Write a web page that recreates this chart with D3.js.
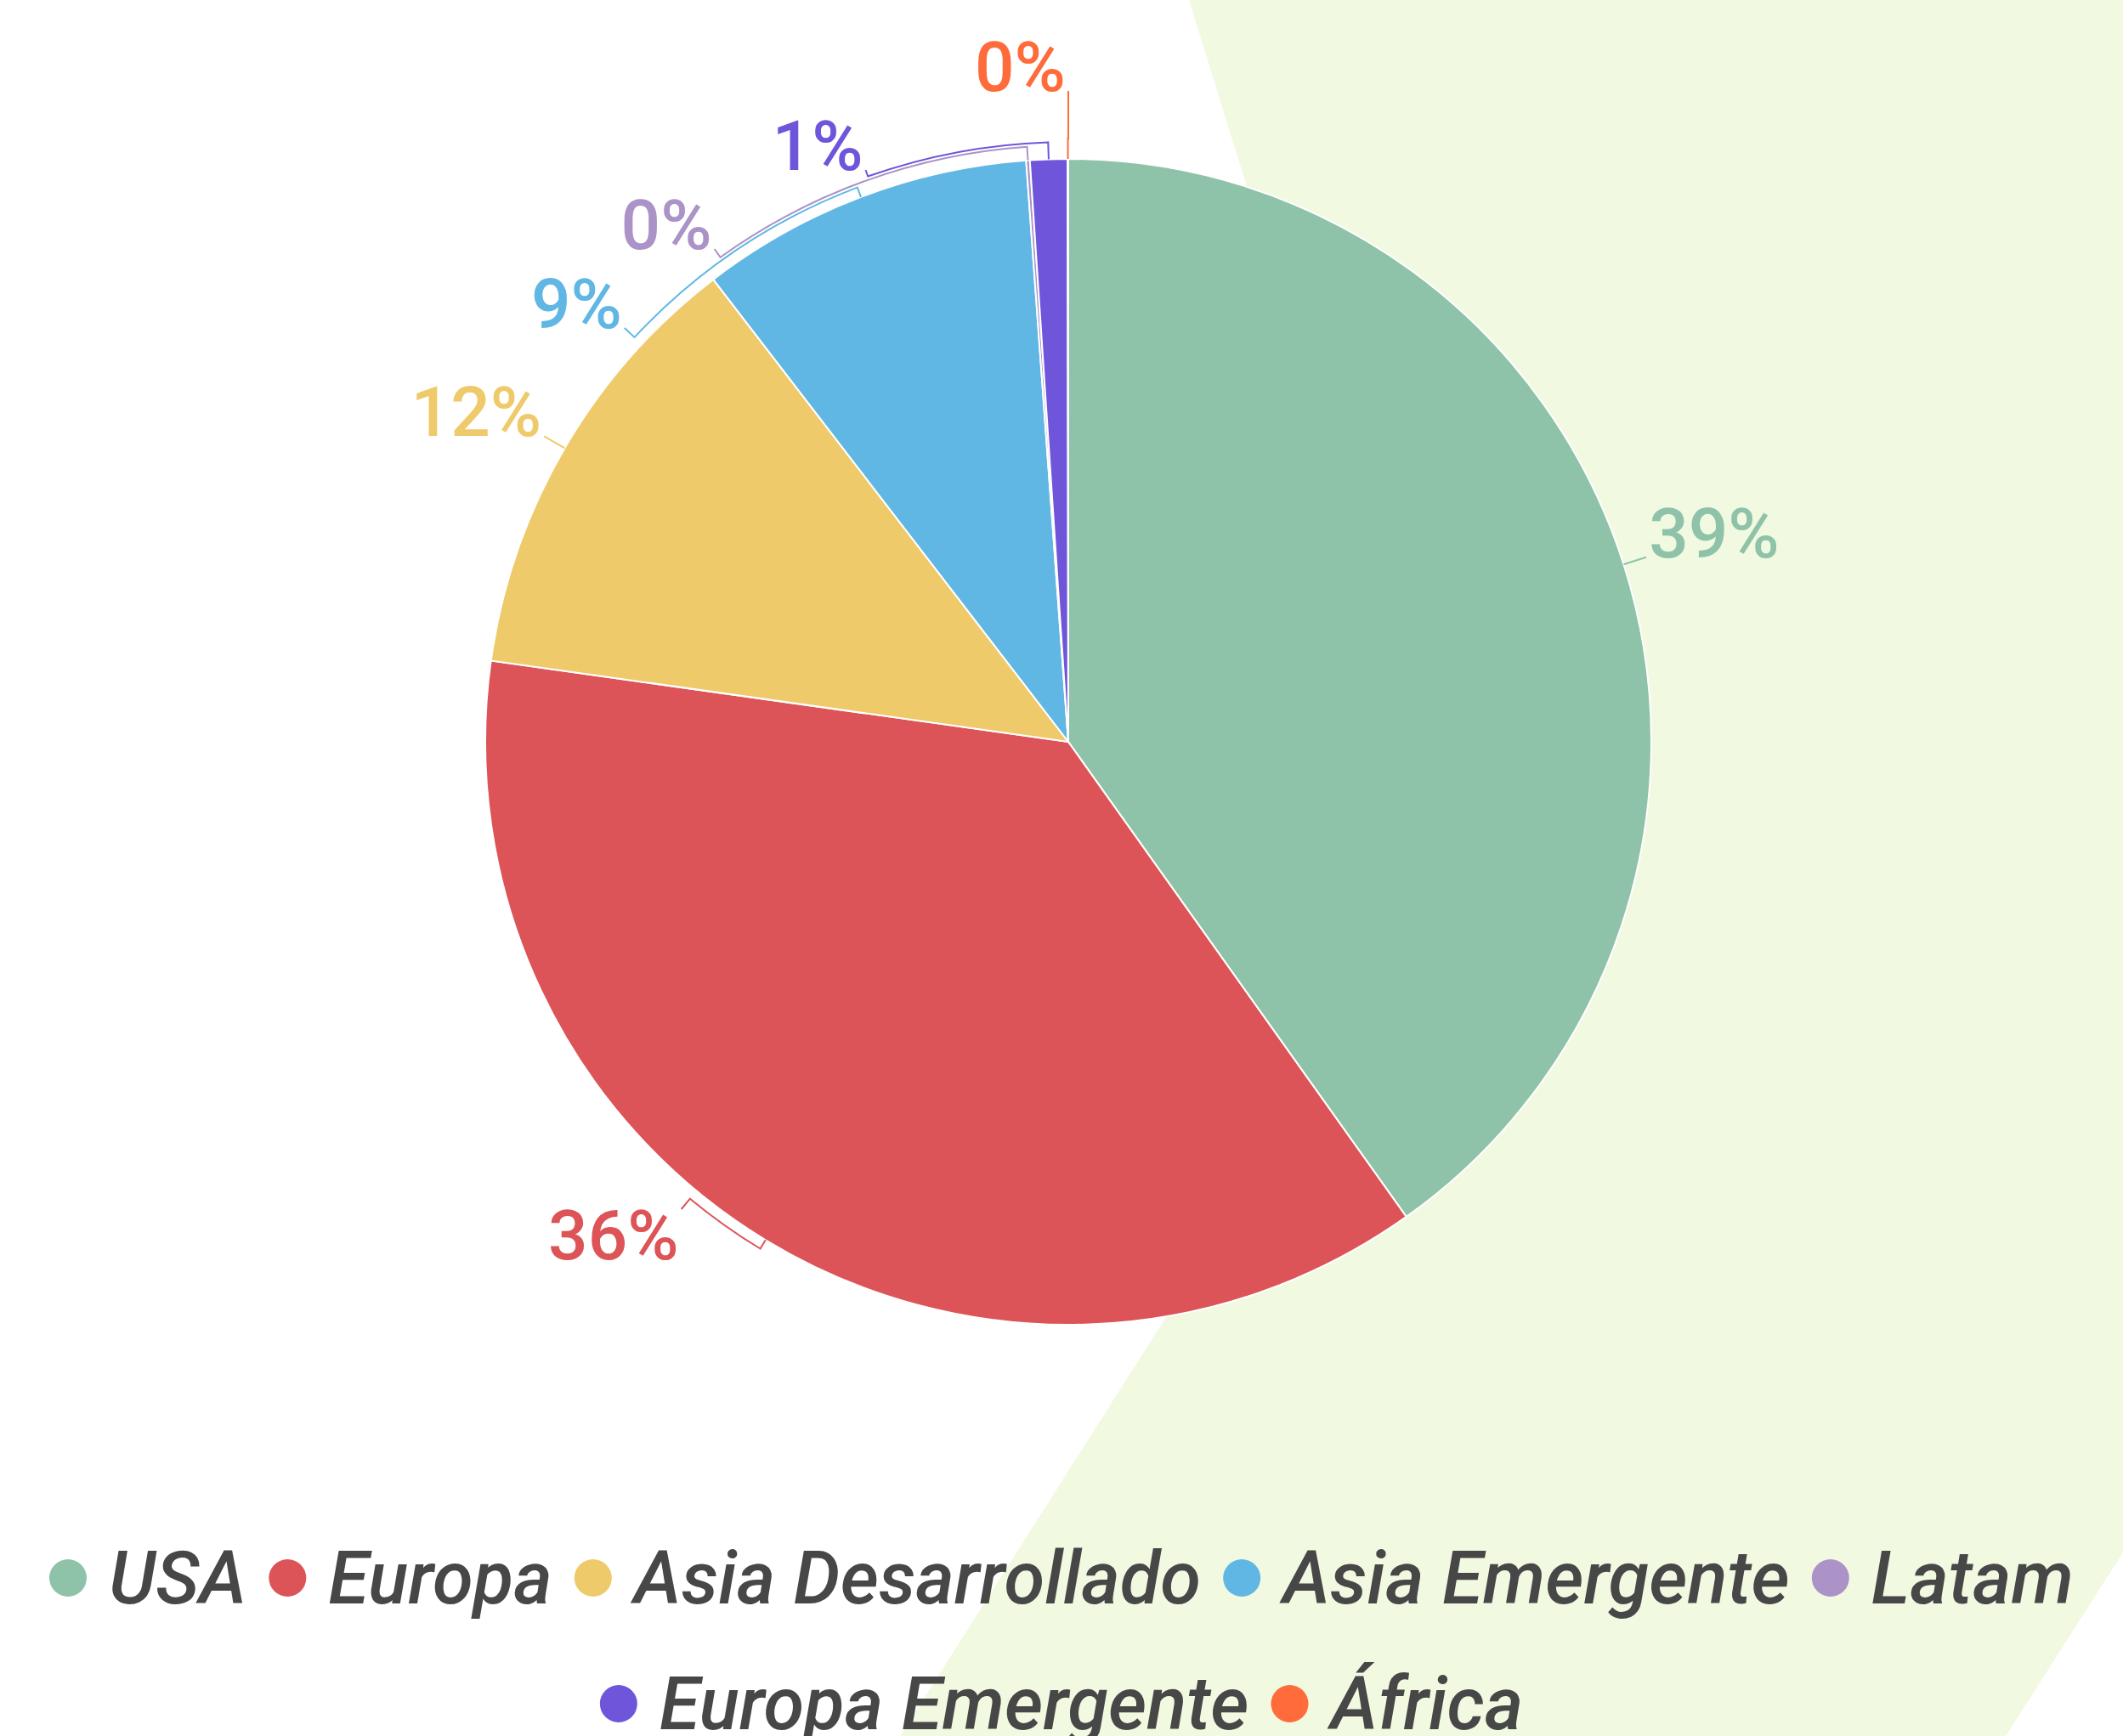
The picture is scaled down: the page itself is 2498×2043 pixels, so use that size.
<!DOCTYPE html>
<meta charset="utf-8">
<head>
  <title>Distribución geográfica</title>
</head>
<style>
body { margin: 0; background: #fff; }
.slice { stroke: #fff; stroke-width: 2px; }
.tick { fill: none; stroke-width: 2px; }
.pct { font-family: Roboto, sans-serif; font-weight: 500; font-size: 82px; }
.legend text { font-family: Roboto, sans-serif; font-style: italic; font-weight: 500; font-size: 87px; fill: #474747; }
</style>
<body>
<svg width="2498" height="2043"></svg>
<script src="https://cdnjs.cloudflare.com/ajax/libs/d3/7.8.5/d3.min.js"></script>
<script>
var categories = ["USA", "Europa", "Asia Desarrollado", "Asia Emergente", "Latam", "Europa Emergente", "África"];
var values = [39, 36, 12, 9, 0.1, 1, 0.02];
var colors = ["#8fc3a9", "#dc5457", "#efca6a", "#61b7e4", "#ab93c8", "#6f55da", "#ff6b3a"];

var width = 2498, height = 2043;
var cx = 1257, cy = 873, radius = 686;

var svg = d3.select("svg");

// green backdrop shape
svg.append("path")
  .attr("d", "M1399,0 L2498,0 L2498,1827 L2360,2043 L1059,2043 L1713,1013 Z")
  .attr("fill", "#f1f9e1");

var pie = d3.pie().sort(null).value(function(d) { return d; });
var arcs = pie(values);
var arc = d3.arc().innerRadius(0).outerRadius(radius);

var g = svg.append("g").attr("transform", "translate(" + cx + "," + cy + ")");

g.selectAll("path.slice")
  .data(arcs)
  .enter()
  .append("path")
  .classed("slice", true)
  .attr("fill", function(d, i) { return colors[i]; })
  .attr("d", arc);

// labels ------------------------------------------------------------
var fmt = function(v) { return d3.format(".0f")(v) + "%"; };
var rTick = radius + 28;
var capH = 59;
var spacing = 93;
var topMin = 48, bottomMax = 1482;

var labels = arcs.map(function(d, i) {
  var mid = (d.startAngle + d.endAngle) / 2;
  var upper = Math.cos(mid) > 0;
  var ay = cy - rTick * Math.cos(mid);
  return {
    i: i, mid: mid, right: mid < Math.PI, upper: upper,
    top: upper ? ay - capH : ay
  };
});

["left", "right"].forEach(function(side) {
  var group = labels.filter(function(l) { return (side === "right") === l.right; })
    .sort(function(a, b) { return a.top - b.top; });
  for (var it = 0; it < 300; it++) {
    for (var k = 1; k < group.length; k++) {
      var diff = group[k].top - group[k - 1].top;
      if (diff < spacing) {
        var o = (spacing - diff) / 2;
        group[k - 1].top -= o;
        group[k].top += o;
      }
    }
    group.forEach(function(l) {
      l.top = Math.max(topMin, Math.min(bottomMax - capH, l.top));
    });
  }
  group.forEach(function(l, k) {
    l.s = side === "left" ? Math.max(12, 24 - 4 * k) : 12;
  });
});

labels.forEach(function(l) {
  l.ay = l.upper ? l.top + capH : l.top;
  var c = Math.max(-1, Math.min(1, (l.ay - cy) / rTick));
  l.ang = l.right ? Math.PI - Math.acos(c) : Math.PI + Math.acos(c);
  l.ax = cx + rTick * Math.sin(l.ang);
});

var lg = svg.append("g");

labels.forEach(function(l) {
  var rs = radius + l.s;
  var p = d3.path();
  p.moveTo(cx + radius * Math.sin(l.mid), cy - radius * Math.cos(l.mid));
  p.lineTo(cx + rs * Math.sin(l.mid), cy - rs * Math.cos(l.mid));
  if (Math.abs(l.ang - l.mid) > 1e-4) {
    p.arc(cx, cy, rs, l.mid - Math.PI / 2, l.ang - Math.PI / 2, l.ang < l.mid);
  }
  p.lineTo(l.ax, l.ay);
  lg.append("path")
    .attr("class", "tick")
    .attr("stroke", colors[l.i])
    .attr("d", p.toString());

  lg.append("text")
    .attr("class", "pct")
    .attr("fill", colors[l.i])
    .attr("text-anchor", l.right ? "start" : "end")
    .attr("x", l.ax + (l.right ? 3 : -3))
    .attr("y", l.top + capH)
    .text(fmt(values[l.i]));
});

// legend ------------------------------------------------------------
var legend = svg.append("g").attr("class", "legend");
var markR = 22, markGap = 26, itemGap = 26, maxRow = 2470;
var rowBase = [1887, 2035];

var items = categories.map(function(name, i) {
  var it = legend.append("g");
  it.append("circle").attr("r", markR).attr("cx", markR).attr("cy", -30).attr("fill", colors[i]);
  var t = it.append("text").attr("x", markR * 2 + markGap).attr("y", 0).text(name);
  return { g: it, w: markR * 2 + markGap + t.node().getComputedTextLength() };
});

var rows = [[]], rowW = [0];
items.forEach(function(it) {
  var r = rows.length - 1;
  var add = (rows[r].length ? itemGap : 0) + it.w;
  if (rowW[r] + add > maxRow && rows[r].length) {
    rows.push([it]); rowW.push(it.w);
  } else {
    rows[r].push(it); rowW[r] += add;
  }
});

rows.forEach(function(row, r) {
  var x = (width - rowW[r]) / 2;
  row.forEach(function(it) {
    it.g.attr("transform", "translate(" + x + "," + rowBase[r] + ")");
    x += it.w + itemGap;
  });
});
</script>
</body>
</html>
